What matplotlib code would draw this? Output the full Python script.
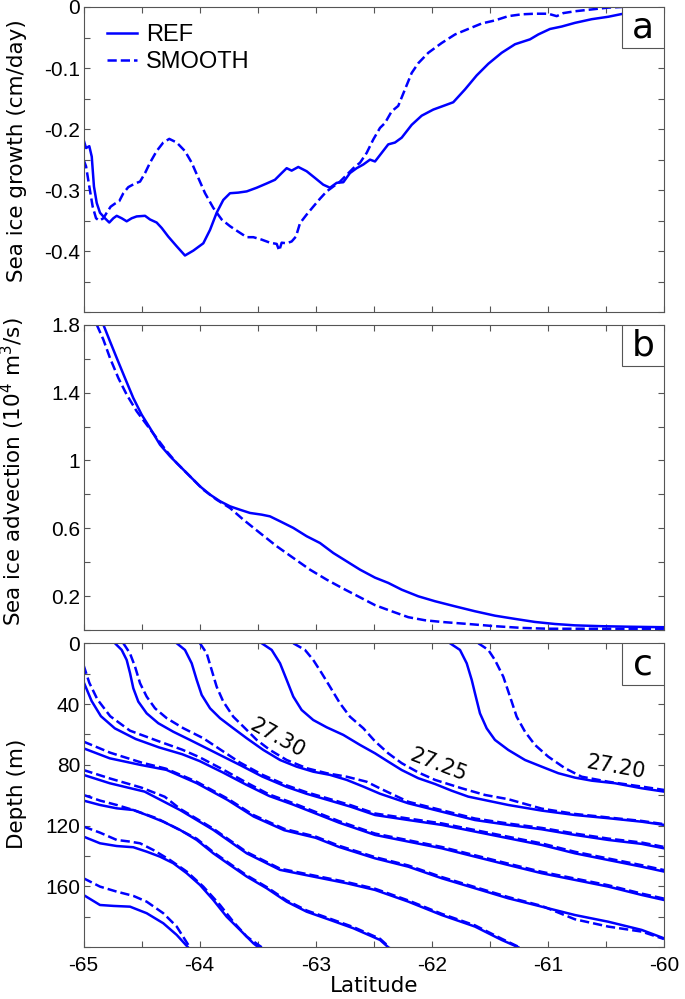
import matplotlib
matplotlib.use("Agg")
import matplotlib.pyplot as plt
import numpy as np
from matplotlib.patches import Rectangle

# ---- panel a : sea ice growth (cm/day) ----
growth_ref = [(-65.0, -0.217), (-64.978, -0.231), (-64.950, -0.228), (-64.929, -0.245), (-64.910, -0.294),
              (-64.886, -0.321), (-64.858, -0.337), (-64.815, -0.346), (-64.778, -0.353), (-64.743, -0.346),
              (-64.714, -0.342), (-64.671, -0.346), (-64.628, -0.351), (-64.585, -0.346), (-64.542, -0.343),
              (-64.470, -0.342), (-64.427, -0.348), (-64.370, -0.353), (-64.326, -0.362), (-64.270, -0.376),
              (-64.197, -0.392), (-64.126, -0.407), (-64.054, -0.399), (-63.968, -0.387), (-63.910, -0.365),
              (-63.853, -0.337), (-63.796, -0.316), (-63.738, -0.305), (-63.667, -0.304), (-63.594, -0.302),
              (-63.508, -0.296), (-63.422, -0.289), (-63.351, -0.283), (-63.293, -0.272), (-63.250, -0.264),
              (-63.207, -0.268), (-63.150, -0.262), (-63.078, -0.269), (-63.006, -0.280), (-62.935, -0.291),
              (-62.877, -0.296), (-62.819, -0.288), (-62.762, -0.287), (-62.705, -0.272), (-62.647, -0.264),
              (-62.590, -0.258), (-62.532, -0.250), (-62.489, -0.253), (-62.432, -0.239), (-62.375, -0.225),
              (-62.317, -0.222), (-62.259, -0.214), (-62.173, -0.193), (-62.087, -0.178), (-61.987, -0.168),
              (-61.886, -0.161), (-61.815, -0.156), (-61.714, -0.135), (-61.613, -0.112), (-61.513, -0.093),
              (-61.398, -0.075), (-61.283, -0.061), (-61.154, -0.053), (-61.083, -0.045), (-60.982, -0.036),
              (-60.881, -0.032), (-60.767, -0.026), (-60.623, -0.020), (-60.480, -0.016), (-60.351, -0.011),
              (-60.2, -0.007), (-60.0, -0.004)]

growth_smooth = [(-65.0, -0.250), (-64.978, -0.261), (-64.950, -0.294), (-64.921, -0.327), (-64.892, -0.346),
                 (-64.864, -0.350), (-64.829, -0.346), (-64.800, -0.337), (-64.766, -0.327), (-64.729, -0.322),
                 (-64.692, -0.318), (-64.657, -0.305), (-64.614, -0.295), (-64.556, -0.289), (-64.513, -0.286),
                 (-64.470, -0.272), (-64.427, -0.255), (-64.370, -0.236), (-64.313, -0.222), (-64.261, -0.216),
                 (-64.197, -0.222), (-64.126, -0.236), (-64.068, -0.255), (-64.011, -0.280), (-63.953, -0.305),
                 (-63.882, -0.329), (-63.810, -0.348), (-63.738, -0.359), (-63.667, -0.368), (-63.594, -0.377),
                 (-63.537, -0.377), (-63.465, -0.381), (-63.394, -0.386), (-63.336, -0.388), (-63.314, -0.399),
                 (-63.293, -0.386), (-63.250, -0.387), (-63.207, -0.384), (-63.170, -0.376), (-63.135, -0.354),
                 (-63.078, -0.340), (-63.021, -0.327), (-62.963, -0.314), (-62.905, -0.302), (-62.848, -0.294),
                 (-62.791, -0.286), (-62.733, -0.275), (-62.676, -0.264), (-62.618, -0.255), (-62.561, -0.239),
                 (-62.504, -0.217), (-62.446, -0.198), (-62.403, -0.190), (-62.346, -0.171), (-62.289, -0.162),
                 (-62.231, -0.135), (-62.173, -0.108), (-62.116, -0.092), (-62.030, -0.075), (-61.915, -0.059),
                 (-61.800, -0.045), (-61.686, -0.036), (-61.570, -0.027), (-61.456, -0.022), (-61.341, -0.015),
                 (-61.226, -0.012), (-61.111, -0.011), (-60.997, -0.011), (-60.924, -0.015), (-60.867, -0.010),
                 (-60.767, -0.007), (-60.623, -0.004), (-60.480, -0.001), (-60.364, 0.0), (-60.0, 0.0)]

# ---- panel b : sea ice advection (10^4 m3/s) ----
advec_ref = [(-64.829, 1.80), (-64.772, 1.702), (-64.714, 1.604), (-64.643, 1.486), (-64.571, 1.368),
             (-64.499, 1.270), (-64.427, 1.191), (-64.341, 1.093), (-64.255, 1.025), (-64.169, 0.966),
             (-64.083, 0.907), (-63.997, 0.848), (-63.910, 0.799), (-63.824, 0.760), (-63.738, 0.730),
             (-63.652, 0.710), (-63.566, 0.691), (-63.465, 0.681), (-63.394, 0.671), (-63.307, 0.642),
             (-63.193, 0.603), (-63.078, 0.554), (-62.963, 0.514), (-62.848, 0.455), (-62.733, 0.406),
             (-62.618, 0.357), (-62.489, 0.310), (-62.375, 0.279), (-62.259, 0.239), (-62.116, 0.200),
             (-61.972, 0.171), (-61.800, 0.141), (-61.628, 0.112), (-61.456, 0.086), (-61.283, 0.067),
             (-61.111, 0.049), (-60.939, 0.037), (-60.767, 0.029), (-60.537, 0.024), (-60.308, 0.021),
             (-60.0, 0.018)]

advec_smooth = [(-64.886, 1.80), (-64.829, 1.712), (-64.772, 1.604), (-64.700, 1.486), (-64.628, 1.388),
                (-64.542, 1.290), (-64.456, 1.211), (-64.370, 1.133), (-64.283, 1.054), (-64.197, 0.985),
                (-64.083, 0.907), (-63.968, 0.828), (-63.853, 0.769), (-63.738, 0.720), (-63.624, 0.652),
                (-63.480, 0.573), (-63.336, 0.495), (-63.193, 0.426), (-63.049, 0.357), (-62.905, 0.298),
                (-62.762, 0.245), (-62.618, 0.194), (-62.489, 0.148), (-62.346, 0.112), (-62.202, 0.077),
                (-62.059, 0.059), (-61.915, 0.049), (-61.686, 0.037), (-61.456, 0.024), (-61.226, 0.014),
                (-60.997, 0.009), (-60.767, 0.009), (-60.480, 0.009), (-60.0, 0.009)]

# ---- panel c : isopycnals (latitude, depth m), REF solid / SMOOTH dashed ----
ref_2720 = [(-61.843, 0), (-61.757, 4.4), (-61.699, 13.2), (-61.656, 24.1), (-61.628, 32.9), (-61.585, 46.1),
            (-61.527, 56.0), (-61.456, 63.6), (-61.341, 70.2), (-61.197, 76.8), (-61.053, 81.2), (-60.910, 85.5),
            (-60.767, 88.4), (-60.623, 90.4), (-60.422, 92.1), (-60.192, 95.4), (-60.0, 97.6)]
smooth_2720 = [(-61.599, 0), (-61.513, 4.4), (-61.456, 11.0), (-61.384, 22.0), (-61.326, 35.1), (-61.269, 48.3),
               (-61.197, 58.2), (-61.111, 66.9), (-60.997, 74.6), (-60.853, 82.2), (-60.709, 87.8),
               (-60.480, 91.1), (-60.192, 94.3), (-60.0, 96.5)]

ref_2725 = [(-63.465, 0), (-63.379, 4.4), (-63.307, 13.2), (-63.250, 24.1), (-63.193, 35.1), (-63.121, 43.9),
            (-63.021, 50.5), (-62.905, 55.3), (-62.762, 60.3), (-62.618, 66.9), (-62.489, 72.4), (-62.375, 77.9),
            (-62.259, 83.4), (-62.116, 88.8), (-61.972, 92.6), (-61.829, 97.0), (-61.686, 100.9),
            (-61.341, 106.4), (-61.053, 110.1), (-60.767, 113.0), (-60.480, 115.1), (-60.192, 117.4),
            (-60.0, 119.5)]
smooth_2725 = [(-63.193, 0), (-63.092, 4.4), (-63.021, 11.0), (-62.948, 19.7), (-62.877, 28.6), (-62.791, 39.5),
               (-62.705, 48.3), (-62.590, 55.9), (-62.489, 64.5), (-62.375, 72.4), (-62.259, 78.9),
               (-62.116, 85.0), (-61.972, 89.9), (-61.743, 95.4), (-61.542, 99.8), (-61.341, 102.6),
               (-61.053, 108.8), (-60.767, 112.3), (-60.480, 114.6), (-60.192, 116.9), (-60.0, 119.0)]

ref_2730 = [(-64.197, 0), (-64.126, 4.4), (-64.068, 13.2), (-64.025, 24.1), (-63.982, 34.0), (-63.910, 42.8),
            (-63.824, 49.3), (-63.710, 55.9), (-63.594, 62.5), (-63.451, 70.2), (-63.307, 76.8), (-63.164, 81.2),
            (-63.021, 84.5), (-62.877, 86.6), (-62.733, 89.9), (-62.590, 94.3), (-62.446, 99.0),
            (-62.202, 105.3), (-61.915, 110.8), (-61.628, 116.3), (-61.341, 119.5), (-61.053, 122.4),
            (-60.767, 126.1), (-60.480, 129.4), (-60.192, 132.0), (-60.0, 134.9)]
smooth_2730 = [(-63.997, 0), (-63.939, 6.6), (-63.896, 17.6), (-63.853, 28.6), (-63.796, 38.4), (-63.710, 48.3),
               (-63.609, 55.9), (-63.508, 63.6), (-63.394, 70.2), (-63.250, 76.8), (-63.078, 82.2),
               (-62.905, 85.5), (-62.733, 87.8), (-62.561, 91.1), (-62.446, 95.5), (-62.202, 104.3),
               (-61.915, 109.8), (-61.628, 115.3), (-61.341, 118.6), (-61.053, 121.5), (-60.767, 125.2),
               (-60.480, 128.5), (-60.192, 131.1), (-60.0, 134.0)]

ref_2735 = [(-64.729, 0), (-64.671, 4.4), (-64.628, 11.0), (-64.599, 19.7), (-64.571, 29.6), (-64.528, 38.4),
            (-64.456, 46.1), (-64.356, 52.6), (-64.227, 58.2), (-64.083, 63.6), (-63.939, 69.1), (-63.796, 74.6),
            (-63.652, 80.1), (-63.46, 87.7), (-63.25, 94.5), (-63.08, 99.0), (-62.9, 103.0), (-62.7, 107.5),
            (-62.489, 113.0), (-62.202, 116.3), (-61.915, 119.5), (-61.628, 123.9), (-61.341, 128.3),
            (-61.053, 132.7), (-60.767, 138.2), (-60.480, 142.6), (-60.192, 147.0), (-60.0, 150.2)]
smooth_2735 = [(-64.657, 0), (-64.600, 6.6), (-64.556, 15.4), (-64.513, 26.3), (-64.456, 35.1), (-64.384, 42.8),
               (-64.283, 49.3), (-64.140, 55.9), (-63.968, 62.5), (-63.8, 71.0), (-63.652, 78.5), (-63.46, 86.5),
               (-63.25, 93.5), (-63.08, 98.0), (-62.9, 102.0), (-62.7, 106.5), (-62.489, 112.0),
               (-62.202, 115.3), (-61.915, 118.5), (-61.628, 122.9), (-61.341, 127.3), (-61.053, 131.7),
               (-60.767, 137.2), (-60.480, 141.6), (-60.192, 146.0), (-60.0, 149.2)]

ref_2740 = [(-65.0, 25.3), (-64.93, 38.0), (-64.85, 48.0), (-64.73, 56.0), (-64.55, 63.0), (-64.35, 68.5),
            (-64.15, 73.0), (-64.0, 77.5), (-63.8, 85.0), (-63.6, 93.0), (-63.4, 100.5), (-63.2, 106.0),
            (-63.0, 112.0), (-62.8, 118.0), (-62.489, 126.1), (-62.202, 130.5), (-61.915, 134.9),
            (-61.628, 140.4), (-61.341, 145.9), (-61.053, 151.3), (-60.767, 155.7), (-60.480, 160.1),
            (-60.192, 165.6), (-60.0, 168.9)]
smooth_2740 = [(-65.0, 14.3), (-64.95, 26.0), (-64.88, 37.0), (-64.77, 48.0), (-64.6, 57.5), (-64.37, 64.0),
               (-64.15, 70.0), (-64.0, 75.0), (-63.8, 83.0), (-63.6, 91.5), (-63.4, 99.5), (-63.2, 105.0),
               (-63.0, 111.0), (-62.8, 117.0), (-62.489, 125.2), (-62.202, 129.6), (-61.915, 134.0),
               (-61.628, 139.5), (-61.341, 145.0), (-61.053, 150.4), (-60.767, 154.8), (-60.480, 159.2),
               (-60.192, 164.7), (-60.0, 168.0)]

ref_2745 = [(-65.0, 69.1), (-64.774, 75.7), (-64.511, 80.0), (-64.286, 83.3), (-64.023, 92.1), (-63.759, 103.1),
            (-63.534, 114.0), (-63.271, 123.0), (-63.0, 128.0), (-62.8, 134.0), (-62.489, 141.5),
            (-62.202, 147.0), (-61.915, 154.6), (-61.628, 161.2), (-61.341, 167.8), (-61.053, 173.3),
            (-60.767, 178.8), (-60.480, 183.2), (-60.192, 188.6), (-60.0, 194.1)]
smooth_2745 = [(-65.0, 64.7), (-64.77, 72.0), (-64.5, 78.5), (-64.29, 82.5), (-64.023, 91.2), (-63.759, 102.2),
               (-63.534, 113.1), (-63.271, 122.1), (-63.0, 127.2), (-62.8, 133.2), (-62.489, 140.7),
               (-62.202, 146.2), (-61.915, 153.8), (-61.628, 160.4), (-61.341, 167.0), (-61.053, 172.8),
               (-60.767, 181.6), (-60.480, 186.4), (-60.192, 189.7), (-60.0, 194.6)]

ref_2750 = [(-65.0, 86.6), (-64.774, 92.1), (-64.474, 97.6), (-64.169, 109.7), (-63.882, 122.8), (-63.594, 138.2),
            (-63.307, 149.1), (-63.021, 153.5), (-62.733, 157.9), (-62.489, 162.3), (-62.202, 170.0),
            (-61.915, 178.8), (-61.628, 186.4), (-61.398, 195.2), (-61.255, 200.0)]
smooth_2750 = [(-65.0, 83.4), (-64.77, 89.0), (-64.5, 95.0), (-64.3, 101.0), (-64.169, 108.9), (-63.882, 122.0),
               (-63.594, 137.4), (-63.307, 148.3), (-63.021, 152.7), (-62.733, 157.1), (-62.489, 161.5),
               (-62.202, 169.2), (-61.915, 178.0), (-61.628, 185.6), (-61.398, 194.4), (-61.245, 200.0)]

ref_2755 = [(-65.0, 103.5), (-64.858, 106.4), (-64.714, 108.6), (-64.571, 109.7), (-64.456, 113.0),
            (-64.313, 117.4), (-64.169, 122.8), (-64.025, 129.4), (-63.882, 138.2), (-63.738, 145.9),
            (-63.594, 153.5), (-63.422, 161.2), (-63.250, 170.0), (-63.078, 176.6), (-62.877, 182.0),
            (-62.676, 187.5), (-62.446, 195.2), (-62.375, 200.0)]
smooth_2755 = [(-65.0, 99.8), (-64.858, 103.5), (-64.714, 106.4), (-64.571, 109.7), (-64.370, 115.1),
               (-64.227, 120.6), (-64.025, 128.6), (-63.882, 137.4), (-63.738, 145.1), (-63.594, 152.7),
               (-63.422, 160.4), (-63.250, 169.2), (-63.078, 175.8), (-62.877, 181.2), (-62.676, 186.7),
               (-62.446, 194.4), (-62.365, 200.0)]

ref_2760 = [(-65.0, 127.2), (-64.858, 131.6), (-64.714, 133.4), (-64.571, 134.2), (-64.456, 137.1),
            (-64.341, 140.4), (-64.227, 144.7), (-64.111, 151.3), (-63.997, 159.0), (-63.882, 168.9),
            (-63.767, 179.9), (-63.652, 188.6), (-63.537, 197.4), (-63.494, 200.0)]
smooth_2760 = [(-65.0, 120.6), (-64.858, 124.6), (-64.714, 129.4), (-64.599, 130.5), (-64.513, 131.6),
               (-64.399, 136.0), (-64.255, 142.6), (-64.111, 150.2), (-63.968, 160.1), (-63.824, 172.2),
               (-63.710, 183.2), (-63.594, 193.0), (-63.465, 200.0)]

ref_2765 = [(-65.0, 165.6), (-64.858, 172.2), (-64.743, 172.8), (-64.599, 173.3), (-64.456, 177.6),
            (-64.313, 184.2), (-64.197, 191.9), (-64.111, 199.1), (-64.10, 200.0)]
smooth_2765 = [(-65.0, 154.6), (-64.858, 160.1), (-64.714, 163.4), (-64.571, 166.2), (-64.456, 170.0),
               (-64.313, 177.6), (-64.197, 186.4), (-64.097, 198.5), (-64.09, 200.0)]

ref_levels = [ref_2720, ref_2725, ref_2730, ref_2735, ref_2740, ref_2745, ref_2750, ref_2755, ref_2760, ref_2765]
smooth_levels = [smooth_2720, smooth_2725, smooth_2730, smooth_2735, smooth_2740, smooth_2745,
                 smooth_2750, smooth_2755, smooth_2760, smooth_2765]

# contour labels: text, latitude, depth, rotation
clabels = [('27.30', -63.33, 62.5, -29), ('27.25', -61.94, 80.0, -21), ('27.20', -60.41, 81.5, -10)]

lat_ticks = np.arange(-65, -59.9, 0.5)
lat_labels = ['-65', '', '-64', '', '-63', '', '-62', '', '-61', '', '-60']

growth_ticks = [-0.5, -0.45, -0.4, -0.35, -0.3, -0.25, -0.2, -0.15, -0.1, -0.05, 0]
growth_labels = ['', '', '-0.4', '', '-0.3', '', '-0.2', '', '-0.1', '', '0']
advec_ticks = [0, 0.2, 0.4, 0.6, 0.8, 1.0, 1.2, 1.4, 1.6, 1.8]
advec_labels = ['', '0.2', '', '0.6', '', '1', '', '1.4', '', '1.8']
depth_ticks = [0, 20, 40, 60, 80, 100, 120, 140, 160, 180, 200]
depth_labels = ['0', '', '40', '', '80', '', '120', '', '160', '', '']

BLUE = '#0000ff'
LW = 1.8
GREY = '#555555'
TICKFONT = 'Liberation Sans'

fig = plt.figure(figsize=(6.85, 9.99), dpi=100)
left, width = 0.1219, 0.8474
ax_a = fig.add_axes([left, 0.6874, width, 0.3056])
ax_b = fig.add_axes([left, 0.3691, width, 0.3059])
ax_c = fig.add_axes([left, 0.0518, width, 0.3043])


def style(ax, yticks, ylabels, show_x):
    ax.set_xlim(-65, -60)
    ax.set_xticks(lat_ticks, labels=lat_labels if show_x else [''] * len(lat_ticks),
                  fontsize=15, fontfamily=TICKFONT)
    ax.set_yticks(yticks, labels=ylabels, fontsize=15, fontfamily=TICKFONT)
    ax.tick_params(direction='in', length=4.5, width=0.8, color=GREY, top=True, right=True)
    ax.tick_params(axis='y', pad=2.5)
    ax.tick_params(axis='x', pad=6)
    for s in ax.spines.values():
        s.set_color(GREY)
        s.set_linewidth(0.8)


def panel_tag(ax, letter, h_px):
    w = 41.5 / 580.5
    h = 41.5 / h_px
    ax.add_patch(Rectangle((1 - w, 1 - h), w, h, transform=ax.transAxes, facecolor='white',
                           edgecolor=GREY, lw=0.8, zorder=5))
    ax.text(1 - w / 2, 1 - h / 2, letter, transform=ax.transAxes, ha='center', va='center',
            fontsize=26, zorder=6)


# panel a
x, y = np.array(growth_ref).T
ax_a.plot(x, y, color=BLUE, lw=LW, label='REF')
x, y = np.array(growth_smooth).T
ax_a.plot(x, y, color=BLUE, lw=LW, ls='--', label='SMOOTH')
ax_a.set_ylim(-0.5, 0)
style(ax_a, growth_ticks, growth_labels, False)
ax_a.set_ylabel('Sea ice growth (cm/day)', fontsize=15.5)
ax_a.yaxis.set_label_coords(-0.098, 0.53)
ax_a.legend(loc='upper left', bbox_to_anchor=(0.04, 0.945), frameon=False, borderaxespad=0, borderpad=0,
            handlelength=1.3, handletextpad=0.35, labelspacing=0.24,
            prop={'family': TICKFONT, 'size': 17})
panel_tag(ax_a, 'a', 305.3)

# panel b
x, y = np.array(advec_ref).T
ax_b.plot(x, y, color=BLUE, lw=LW)
x, y = np.array(advec_smooth).T
ax_b.plot(x, y, color=BLUE, lw=LW, ls='--')
ax_b.set_ylim(0, 1.8)
style(ax_b, advec_ticks, advec_labels, False)
ax_b.set_ylabel(r'Sea ice advection (10$^4$ m$^3$/s)', fontsize=15.5)
ax_b.yaxis.set_label_coords(-0.098, 0.518)
panel_tag(ax_b, 'b', 305.6)

# panel c
for line in ref_levels:
    x, y = np.array(line).T
    ax_c.plot(x, y, color=BLUE, lw=LW)
for line in smooth_levels:
    x, y = np.array(line).T
    ax_c.plot(x, y, color=BLUE, lw=LW, ls='--')
for txt, la, de, rot in clabels:
    ax_c.text(la, de, txt, rotation=rot, rotation_mode='anchor', ha='center', va='center',
              fontsize=15, zorder=4)
ax_c.set_ylim(200, 0)
style(ax_c, depth_ticks, depth_labels, True)
ax_c.set_ylabel('Depth (m)', fontsize=15.5)
ax_c.yaxis.set_label_coords(-0.098, 0.505)
ax_c.set_xlabel('Latitude', fontsize=15.5, labelpad=1)
panel_tag(ax_c, 'c', 304.0)

fig.savefig('out.png', dpi=100)
